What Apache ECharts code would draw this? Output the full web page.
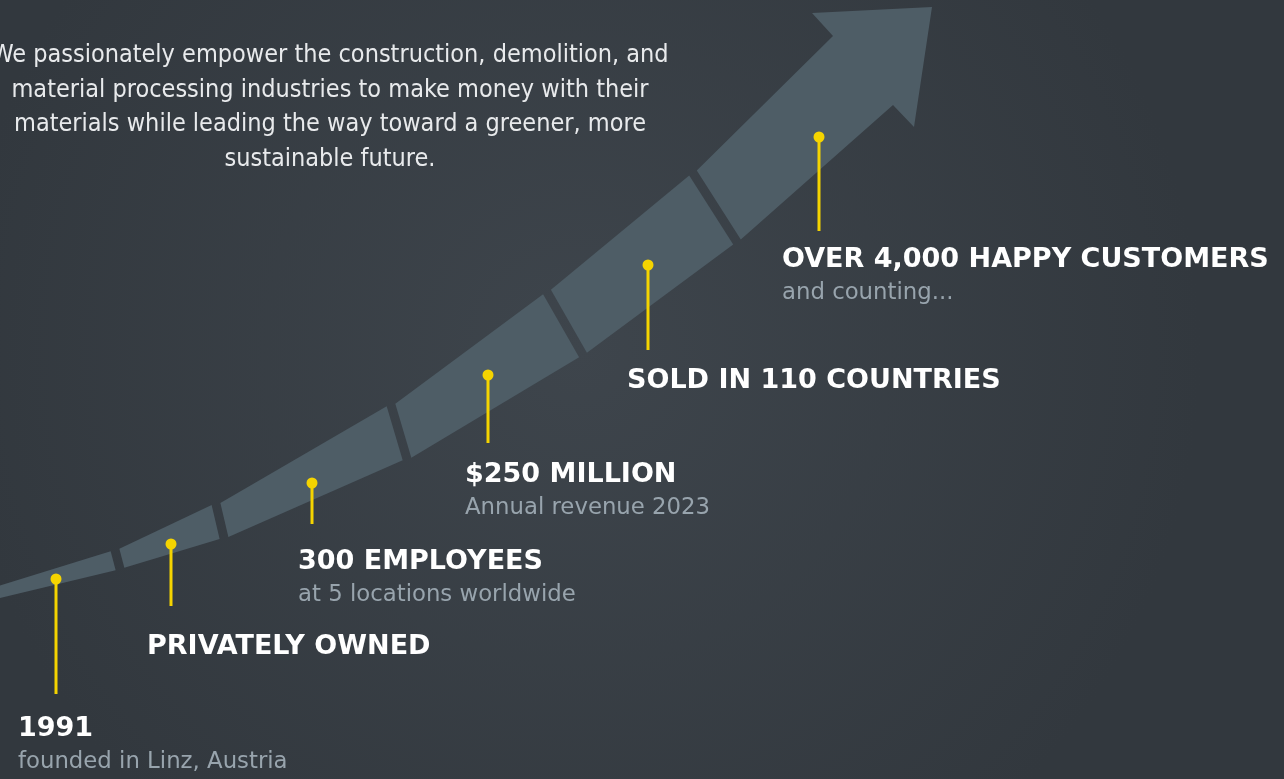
<!DOCTYPE html>
<html>
<head>
<meta charset="utf-8">
<style>
  html, body { margin: 0; padding: 0; background: #383f45; }
  #chart { width: 1284px; height: 779px; }
</style>
<script src="https://cdn.jsdelivr.net/npm/echarts@6/dist/echarts.min.js"></script>
</head>
<body>
<div id="chart"></div>
<script>
// ---- Data ----
const introLines = [
  'We passionately empower the construction, demolition, and',
  'material processing industries to make money with their',
  'materials while leading the way toward a greener, more',
  'sustainable future.'
];

// Arrow band: gap lines (upper & lower end points), in canvas units
const bandUpperX = [-31, 115, 216, 391, 547, 693, 833];
const bandUpperY = [595, 550, 504, 405, 292, 173, 36];
const bandLowerX = [-29, 120, 224, 407, 583, 737, 893];
const bandLowerY = [605, 569, 538, 459, 355, 242, 105];
// Arrow head: left barb, tip, right barb
const headX = [812, 932, 914];
const headY = [13, 7, 127];

// Milestones
const milestoneTitles = ['1991', 'PRIVATELY OWNED', '300 EMPLOYEES', '$250 MILLION', 'SOLD IN 110 COUNTRIES', 'OVER 4,000 HAPPY CUSTOMERS'];
const milestoneSubtitles = ['founded in Linz, Austria', '', 'at 5 locations worldwide', 'Annual revenue 2023', '', 'and counting...'];
const pinX = [56, 171, 312, 488, 648, 819];
const pinTopY = [579, 544, 483, 375, 265, 137];
const pinBottomY = [694, 606, 524, 443, 350, 231];
const labelX = [18, 147, 298, 465, 627, 782];
const labelY = [729, 647, 562, 475, 381, 260];

// ---- Styles ----
const W = 1284, H = 779;
const BAND_COLOR = '#4e5d66';
const PIN_COLOR = '#f5d400';
const GAP_HALF = 4.5;

const chart = echarts.init(document.getElementById('chart'), null, { renderer: 'canvas' });

function renderSegment(params, api) {
  const i = api.value(0);
  const a = i, b = i + 1, last = bandUpperX.length - 1;
  const Ua = api.coord([bandUpperX[a], bandUpperY[a]]);
  const La = api.coord([bandLowerX[a], bandLowerY[a]]);
  const Ub = api.coord([bandUpperX[b], bandUpperY[b]]);
  const Lb = api.coord([bandLowerX[b], bandLowerY[b]]);
  function fwd(U, L) {
    const vx = L[0] - U[0], vy = L[1] - U[1];
    const len = Math.hypot(vx, vy);
    return [vy / len, -vx / len];
  }
  const fa = fwd(Ua, La), fb = fwd(Ub, Lb);
  const ga = a === 0 ? 0 : GAP_HALF;
  const gb = b === last ? 0 : GAP_HALF;
  const pts = [];
  pts.push([Ua[0] + fa[0] * ga, Ua[1] + fa[1] * ga]);
  pts.push([Ub[0] - fb[0] * gb, Ub[1] - fb[1] * gb]);
  if (b === last) {
    for (let k = 0; k < headX.length; k++) pts.push(api.coord([headX[k], headY[k]]));
  }
  pts.push([Lb[0] - fb[0] * gb, Lb[1] - fb[1] * gb]);
  pts.push([La[0] + fa[0] * ga, La[1] + fa[1] * ga]);
  return { type: 'polygon', shape: { points: pts }, style: { fill: BAND_COLOR } };
}

function renderPin(params, api) {
  const i = params.dataIndex;
  const top = api.coord([api.value(0), api.value(1)]);
  const bottom = api.coord([api.value(0), api.value(2)]);
  const lab = api.coord([labelX[i], labelY[i]]);
  const children = [
    { type: 'line', shape: { x1: top[0], y1: top[1], x2: bottom[0], y2: bottom[1] },
      style: { stroke: PIN_COLOR, lineWidth: 3 } },
    { type: 'circle', shape: { cx: top[0], cy: top[1], r: 5.5 }, style: { fill: PIN_COLOR } },
    { type: 'text', x: lab[0], y: lab[1],
      style: { text: milestoneTitles[i], fill: '#ffffff', align: 'left', verticalAlign: 'middle',
               font: 'bold 27px "DejaVu Sans"' } }
  ];
  if (milestoneSubtitles[i]) {
    children.push({ type: 'text', x: lab[0], y: lab[1] + 33,
      style: { text: milestoneSubtitles[i], fill: '#98a4ad', align: 'left', verticalAlign: 'middle',
               font: '22.8px "DejaVu Sans"' } });
  }
  return { type: 'group', children: children };
}

const option = {
  backgroundColor: {
    type: 'radial', x: 0.45, y: 0.45, r: 0.8,
    colorStops: [{ offset: 0, color: '#3e454c' }, { offset: 1, color: '#32383e' }]
  },
  animation: false,
  grid: { left: 0, right: 0, top: 0, bottom: 0 },
  xAxis: { type: 'value', min: 0, max: W, show: false },
  yAxis: { type: 'value', min: 0, max: H, inverse: true, show: false },
  graphic: [{
    type: 'text', x: 330, y: 38,
    style: {
      text: introLines.join('\n'), fill: '#e8eaec', align: 'center', verticalAlign: 'top',
      font: '25px "DejaVu Sans Condensed"', lineHeight: 34.7
    }
  }],
  series: [
    {
      type: 'custom', clip: false, silent: true,
      renderItem: renderSegment,
      data: bandUpperX.slice(0, -1).map((_, i) => [i])
    },
    {
      type: 'custom', clip: false, silent: true,
      renderItem: renderPin,
      data: pinX.map((x, i) => [x, pinTopY[i], pinBottomY[i]])
    }
  ]
};
chart.setOption(option);
</script>
</body>
</html>
